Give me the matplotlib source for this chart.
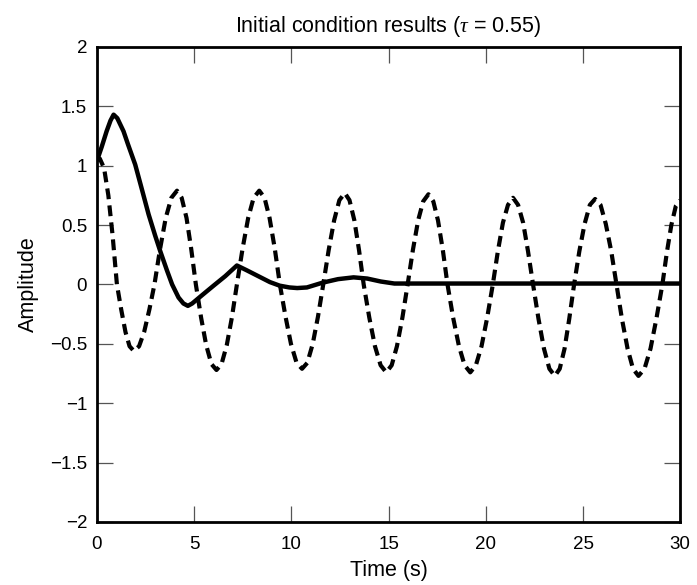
import matplotlib
matplotlib.use("Agg")
import matplotlib.pyplot as plt

# solid curve: response with tau = 0.55
sol_t = [0.0, 0.25, 0.5, 0.7, 0.86, 1.05, 1.37, 1.6, 1.97, 2.3, 2.66, 3.0, 3.26, 3.6,
         3.87, 4.2, 4.45, 4.68, 4.9, 5.41, 6.0, 6.6, 7.2, 7.7, 8.3, 8.9, 9.4, 9.9,
         10.3, 10.8, 11.6, 12.4, 13.2, 13.9, 14.6, 15.3, 30.0]
sol_y = [1.04, 1.16, 1.29, 1.38, 1.43, 1.40, 1.29, 1.18, 1.01, 0.81, 0.59, 0.41, 0.28, 0.12,
         0.00, -0.11, -0.16, -0.18, -0.16, -0.09, -0.01, 0.07, 0.16, 0.12, 0.07, 0.02, -0.01, -0.025,
         -0.03, -0.025, 0.015, 0.045, 0.06, 0.05, 0.025, 0.008, 0.008]

# dashed curve: sustained oscillation
dash_t = [0.00, 0.15,
          0.37, 0.59, 0.81, 1.03,
          1.25, 1.47, 1.68, 1.90,
          2.17, 2.43, 2.70, 2.96,
          3.25, 3.54, 3.83, 4.12,
          4.36, 4.61, 4.85, 5.09,
          5.36, 5.62, 5.89, 6.15,
          6.41, 6.68, 6.94, 7.20,
          7.49, 7.78, 8.06, 8.35,
          8.62, 8.88, 9.15, 9.41,
          9.70, 9.98, 10.27, 10.55,
          10.82, 11.10, 11.37, 11.64,
          11.92, 12.20, 12.47, 12.75,
          12.99, 13.24, 13.48, 13.72,
          14.01, 14.30, 14.59, 14.88,
          15.16, 15.43, 15.71, 15.98,
          16.25, 16.52, 16.78, 17.05,
          17.30, 17.54, 17.79, 18.03,
          18.32, 18.62, 18.91, 19.20,
          19.49, 19.78, 20.07, 20.36,
          20.62, 20.88, 21.14, 21.40,
          21.66, 21.92, 22.17, 22.43,
          22.71, 22.99, 23.27, 23.55,
          23.80, 24.05, 24.29, 24.54,
          24.81, 25.08, 25.35, 25.62,
          25.90, 26.17, 26.45, 26.72,
          27.00, 27.29, 27.57, 27.85,
          28.16, 28.47, 28.77, 29.08,
          29.31, 29.54, 29.77, 30.00]
dash_y = [1.05, 1.06,
          0.98, 0.75, 0.41, 0.00,
          -0.21, -0.40, -0.52, -0.56,
          -0.52, -0.40, -0.21, 0.00,
          0.30, 0.56, 0.73, 0.79,
          0.73, 0.56, 0.30, 0.00,
          -0.28, -0.51, -0.67, -0.72,
          -0.67, -0.51, -0.28, 0.00,
          0.30, 0.56, 0.73, 0.79,
          0.73, 0.56, 0.30, 0.00,
          -0.27, -0.50, -0.66, -0.71,
          -0.66, -0.50, -0.27, 0.00,
          0.29, 0.54, 0.71, 0.77,
          0.71, 0.54, 0.29, 0.00,
          -0.28, -0.52, -0.68, -0.74,
          -0.68, -0.52, -0.28, 0.00,
          0.29, 0.54, 0.70, 0.76,
          0.70, 0.54, 0.29, 0.00,
          -0.28, -0.52, -0.68, -0.74,
          -0.68, -0.52, -0.28, 0.00,
          0.28, 0.52, 0.67, 0.73,
          0.67, 0.52, 0.28, 0.00,
          -0.29, -0.54, -0.71, -0.77,
          -0.71, -0.54, -0.29, 0.00,
          0.28, 0.51, 0.67, 0.72,
          0.67, 0.51, 0.28, 0.00,
          -0.29, -0.54, -0.71, -0.77,
          -0.71, -0.54, -0.29, 0.00,
          0.27, 0.50, 0.66, 0.71]

xticks = [0, 5, 10, 15, 20, 25, 30]
yticks = [-2, -1.5, -1, -0.5, 0, 0.5, 1, 1.5, 2]
ytick_labels = ["\u22122", "\u22121.5", "\u22121", "\u22120.5", "0", "0.5", "1", "1.5", "2"]

plt.rcParams["font.family"] = ["Liberation Sans", "DejaVu Sans"]
plt.rcParams["mathtext.fontset"] = "custom"
plt.rcParams["mathtext.it"] = "Liberation Serif:italic"
plt.rcParams["mathtext.rm"] = "Liberation Sans"

fig = plt.figure(figsize=(6.97, 5.85), dpi=100)
ax = fig.add_axes([0.139, 0.1077, 0.837, 0.812])

ax.plot(dash_t, dash_y, color="black", lw=3.0, dashes=(2.6, 1.5))
ax.plot(sol_t, sol_y, color="black", lw=3.2, solid_capstyle="butt")

ax.set_xlim(0, 30)
ax.set_ylim(-2, 2)
ax.set_xticks(xticks)
ax.set_xticklabels([str(v) for v in xticks])
ax.set_yticks(yticks)
ax.set_yticklabels(ytick_labels)
ax.tick_params(direction="in", length=11.5, width=0.9, color="#555555",
               top=True, right=True, labelsize=13.5)
ax.tick_params(axis="x", pad=10)
ax.tick_params(axis="y", pad=7)
for s in ax.spines.values():
    s.set_linewidth(2.0)

ax.set_title(r"Initial condition results ($\tau$ = 0.55)", fontsize=15.5, pad=11)
ax.set_xlabel("Time (s)", fontsize=15.5, labelpad=5)
ax.set_ylabel("Amplitude", fontsize=15.5, labelpad=8)

fig.savefig("out.png", dpi=100)
